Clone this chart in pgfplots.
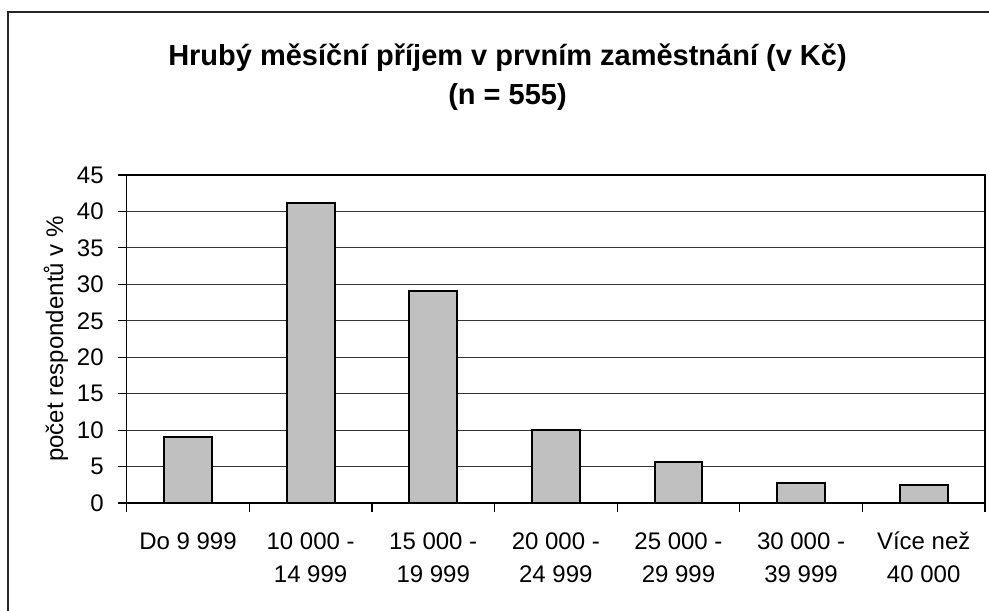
\documentclass[border=0pt]{standalone}
\usepackage{pgfplots}
\pgfplotsset{compat=1.18}
\usetikzlibrary{calc}
\usepackage{fontspec}
\setmainfont{Liberation Sans}
\definecolor{barfill}{HTML}{C0C0C0}
\begin{document}
\begin{tikzpicture}[x=0.5pt,y=0.5pt]
\begin{axis}[
  name=ax, at={(0,0)}, anchor=south west,
  width=429.15pt, height=164pt, scale only axis,
  xmin=-0.5, xmax=6.5, ymin=0, ymax=45,
  ytick={0,5,...,45},
  xtick={-0.5,0.5,...,5.5},
  extra x ticks={6.5}, extra x tick labels={},
  xticklabels={\strut Do 9 999,{\strut 10 000 -\\14 999},{\strut 15 000 -\\19 999},{\strut 20 000 -\\24 999},{\strut 25 000 -\\29 999},{\strut 30 000 -\\39 999},{\strut Více než\\40 000}},
  xticklabel style={align=center,xshift=30.65pt,yshift=-3.5pt,font=\fontsize{12}{16.5}\selectfont},
  yticklabel style={xshift=-3.5pt,font=\fontsize{12}{14}\selectfont},
  /pgf/number format/assume math mode=true,
  tick pos=left,
  tick align=outside, major tick length=4.5pt,
  tick style={black, line width=0.6pt},
  ymajorgrids, grid style={black!80, line width=0.5pt},
  axis line style={black, line width=0.6pt},
  ylabel={počet respondentů v \%},
  ylabel shift=-2.5pt,
  ylabel style={font=\fontsize{12}{14}\selectfont},
  ybar, bar width=0.39,
]
\addplot[fill=barfill, draw=black, line width=1pt] coordinates {
 (0,9.1) (1,41.1) (2,29.1) (3,10.0) (4,5.6) (5,2.8) (6,2.5)};
\coordinate (pb) at (rel axis cs:0,0);
\end{axis}
\pgfresetboundingbox
\useasboundingbox ($(pb)+(-126.7,-107)$) rectangle ++(989,610);
\draw[line width=0.8pt,black!85] ($(pb)+(-118.7,-120)$) -- ($(pb)+(-118.7,491)$) -- ($(pb)+(880,491)$);
\node[font=\fontsize{14.5}{20}\selectfont\bfseries,anchor=base] at ($(pb)+(380.8,437)$) {Hrubý měsíční příjem v prvním zaměstnání (v Kč)};
\node[font=\fontsize{14.5}{20}\selectfont\bfseries,anchor=base] at ($(pb)+(380.8,398)$) {(n = 555)};
\end{tikzpicture}
\end{document}
